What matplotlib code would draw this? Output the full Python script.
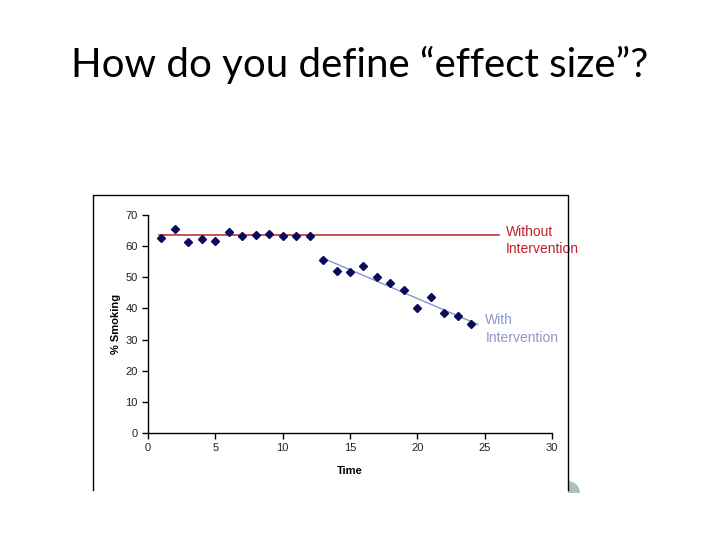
import numpy as np
import matplotlib.pyplot as plt
import matplotlib.transforms as mtransforms
from matplotlib.patches import Wedge
from matplotlib.lines import Line2D

# Data
time = [1, 2, 3, 4, 5, 6, 7, 8, 9, 10, 11, 12,
        13, 14, 15, 16, 17, 18, 19, 20, 21, 22, 23, 24]
pct_smoking = [62.5, 65.6, 61.4, 62.2, 61.7, 64.6, 63.1, 63.7, 63.9, 63.4, 63.1, 63.1,
               55.4, 52.0, 51.7, 53.5, 50.0, 48.3, 45.8, 40.1, 43.7, 38.6, 37.5, 34.9]
baseline_level = 63.6          # "Without Intervention" level
baseline_span = [0.8, 26.1]    # x-range of the baseline line
trend_span = [12.9, 24.5]      # x-range of the fitted trend line
n_before = 12                  # points before intervention

xticks = [0, 5, 10, 15, 20, 25, 30]
yticks = [0, 10, 20, 30, 40, 50, 60, 70]

fig = plt.figure(figsize=(7.2, 5.4), dpi=100)
# pixel coords (origin top-left) -> figure
px = mtransforms.Affine2D().scale(1 / 720, -1 / 540).translate(0, 1) + fig.transFigure

# slide title
fig.text(360, 77, "How do you define \u201ceffect size\u201d?", transform=px,
         ha='center', va='baseline', fontsize=29, family='Lato', color='black')

# decorative circle peeking out from under the chart image
fig.patches.append(Wedge((568, 493), 12, -90, 0, transform=px,
                         facecolor='#a9c3bd', edgecolor='none', zorder=0))
# white chart image background
fig.patches.append(plt.Rectangle((93, 195), 476, 295, transform=px, facecolor='white',
                                 edgecolor='none', zorder=1))
# frame of the embedded chart (bottom is cut off)
fig.lines.append(Line2D([93, 93, 568, 568], [490, 195, 195, 490], transform=px,
                        color='black', lw=1, zorder=5))

ax = fig.add_axes([148 / 720, 1 - 433 / 540, (552 - 148) / 720, (433 - 215) / 540])
ax.set_facecolor('none')
ax.set_zorder(3)

# trend lines
ax.plot(baseline_span, [baseline_level, baseline_level], color='#b8232b', lw=1.1, zorder=2)
slope, icpt = np.polyfit(time[n_before:], pct_smoking[n_before:], 1)
tx = np.array(trend_span)
ax.plot(tx, slope * tx + icpt, color='#8a94c8', lw=1.0, zorder=2)

# data points
ax.plot(time, pct_smoking, linestyle='none', marker='D', markersize=4.2,
        color='#0b0b5c', zorder=3)

ax.text(26.6, 66.9, "Without\nIntervention", color='#c0202a', fontsize=10,
        family='Liberation Sans', va='top', ha='left', linespacing=1.3, clip_on=False)
ax.text(25.05, 38.4, "With\nIntervention", color='#8e98c8', fontsize=10,
        family='Liberation Sans', va='top', ha='left', linespacing=1.3, clip_on=False)

ax.set_xlim(0, 30)
ax.set_ylim(0, 70)
ax.set_xticks(xticks)
ax.set_yticks(yticks)
for s in ['top', 'right']:
    ax.spines[s].set_visible(False)
for s in ['left', 'bottom']:
    ax.spines[s].set_linewidth(1)
ax.tick_params(direction='out', length=4, width=1, labelsize=8, colors='black',
               labelcolor='#222222')
for lab in ax.get_xticklabels() + ax.get_yticklabels():
    lab.set_family('Liberation Sans')

ax.set_xlabel('Time', fontsize=8, fontweight='bold', family='Liberation Sans', labelpad=9)
ax.set_ylabel('% Smoking', fontsize=8, fontweight='bold', family='Liberation Sans', labelpad=3)

plt.savefig('out.png', dpi=100)
